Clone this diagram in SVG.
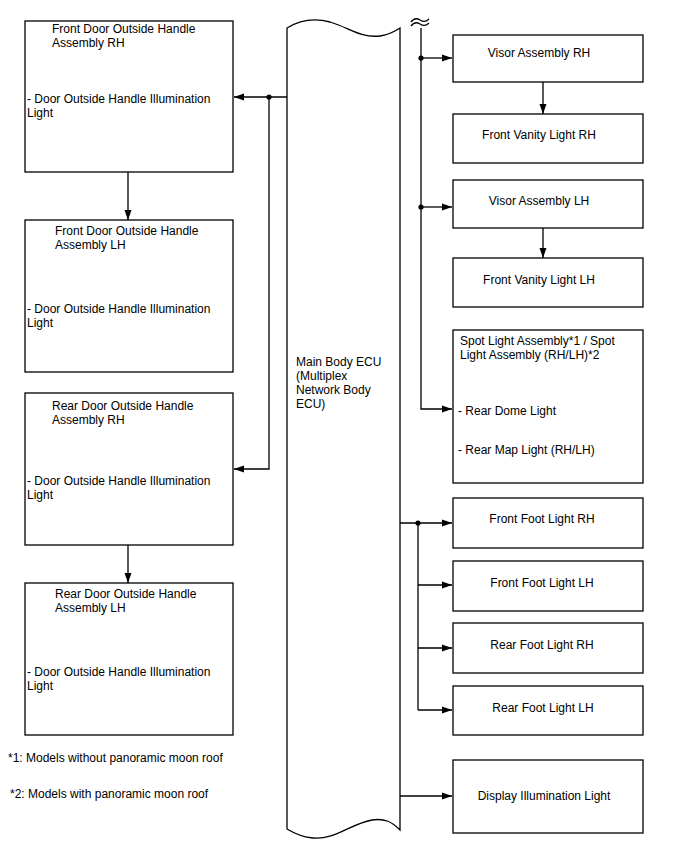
<svg xmlns="http://www.w3.org/2000/svg" width="688" height="852" viewBox="0 0 688 852">
<defs>
<marker id="ah" viewBox="0 0 10 10" refX="10" refY="5" markerWidth="10" markerHeight="10" markerUnits="userSpaceOnUse" orient="auto">
<path d="M0,1.5 L10,5 L0,8.5 Z" fill="#000"/>
</marker>
<style>
.box{fill:#fff;stroke:#000;stroke-width:1.3}
.t{font-family:"Liberation Sans",Arial,sans-serif;font-size:12px;fill:#000}
.m{text-anchor:middle}
.c{fill:none;stroke:#000;stroke-width:1.3}
.a{fill:none;stroke:#000;stroke-width:1.3;marker-end:url(#ah)}
</style>
</defs>
<rect width="688" height="852" fill="#fff"/>

<g id="ecu">
<path class="box" d="M287,28 C300,20 315,18 330,22 C350,28 360,38 380,36 C390,35 395,31 400,28 L400,830 C392,822 385,818 372,820 C350,824 335,840 313,838 C300,837 292,832 287,829 Z"/>
<text class="t" x="296" y="366">Main Body ECU</text>
<text class="t" x="296" y="380">(Multiplex</text>
<text class="t" x="296" y="394">Network Body</text>
<text class="t" x="296" y="408">ECU)</text>
</g>

<g id="fdrh">
<rect class="box" x="25" y="21" width="208" height="151"/>
<text class="t" x="52" y="33">Front Door Outside Handle</text>
<text class="t" x="52" y="47">Assembly RH</text>
<text class="t" x="27" y="103">- Door Outside Handle Illumination</text>
<text class="t" x="27" y="117">Light</text>
</g>
<g id="fdlh">
<rect class="box" x="25" y="220" width="208" height="152"/>
<text class="t" x="55" y="235">Front Door Outside Handle</text>
<text class="t" x="55" y="249">Assembly LH</text>
<text class="t" x="27" y="313">- Door Outside Handle Illumination</text>
<text class="t" x="27" y="327">Light</text>
</g>
<g id="rdrh">
<rect class="box" x="25" y="393" width="208" height="152"/>
<text class="t" x="52" y="410">Rear Door Outside Handle</text>
<text class="t" x="52" y="424">Assembly RH</text>
<text class="t" x="27" y="485">- Door Outside Handle Illumination</text>
<text class="t" x="27" y="499">Light</text>
</g>
<g id="rdlh">
<rect class="box" x="25" y="583" width="208" height="152"/>
<text class="t" x="55" y="598">Rear Door Outside Handle</text>
<text class="t" x="55" y="612">Assembly LH</text>
<text class="t" x="27" y="676">- Door Outside Handle Illumination</text>
<text class="t" x="27" y="690">Light</text>
</g>

<g id="visorrh">
<rect class="box" x="453" y="35" width="190" height="47"/>
<text class="t m" x="539" y="57">Visor Assembly RH</text>
</g>
<g id="vanityrh">
<rect class="box" x="453" y="114" width="190" height="49"/>
<text class="t m" x="539" y="139">Front Vanity Light RH</text>
</g>
<g id="visorlh">
<rect class="box" x="453" y="180" width="190" height="48"/>
<text class="t m" x="539" y="205">Visor Assembly LH</text>
</g>
<g id="vanitylh">
<rect class="box" x="453" y="258" width="190" height="49"/>
<text class="t m" x="539" y="284">Front Vanity Light LH</text>
</g>
<g id="spot">
<rect class="box" x="453" y="330" width="190" height="153"/>
<text class="t" x="460" y="345">Spot Light Assembly*1 / Spot</text>
<text class="t" x="460" y="359">Light Assembly (RH/LH)*2</text>
<text class="t" x="458" y="415">- Rear Dome Light</text>
<text class="t" x="458" y="454">- Rear Map Light (RH/LH)</text>
</g>
<g id="ffrh">
<rect class="box" x="453" y="498" width="190" height="50"/>
<text class="t m" x="542" y="523">Front Foot Light RH</text>
</g>
<g id="fflh">
<rect class="box" x="453" y="561" width="190" height="50"/>
<text class="t m" x="542" y="587">Front Foot Light LH</text>
</g>
<g id="rfrh">
<rect class="box" x="453" y="623" width="190" height="50"/>
<text class="t m" x="542" y="649">Rear Foot Light RH</text>
</g>
<g id="rflh">
<rect class="box" x="453" y="686" width="190" height="49"/>
<text class="t m" x="543" y="712">Rear Foot Light LH</text>
</g>
<g id="display">
<rect class="box" x="453" y="760" width="190" height="73"/>
<text class="t m" x="544" y="800">Display Illumination Light</text>
</g>

<g id="notes">
<text class="t" x="8" y="762">*1: Models without panoramic moon roof</text>
<text class="t" x="10" y="798">*2: Models with panoramic moon roof</text>
</g>

<g id="connectors">
<path class="a" d="M287,97 L234,97"/>
<path class="a" d="M269,97 L269,469 L234,469"/>
<circle cx="269" cy="97" r="2.6"/>
<path class="a" d="M128,172 L128,220"/>
<path class="a" d="M128,545 L128,583"/>

<path class="c" d="M411,22 C414,18 417,18 420,20 C423,22 426,22 429,19 M411,26 C414,22 417,22 420,24 C423,26 426,26 429,23"/>
<path class="a" d="M421,28 L421,409 L452,409"/>
<path class="a" d="M421,58 L452,58"/>
<circle cx="421" cy="58" r="2.6"/>
<path class="a" d="M421,207 L452,207"/>
<circle cx="421" cy="207" r="2.6"/>
<path class="a" d="M543,82 L543,114"/>
<path class="a" d="M543,228 L543,258"/>

<path class="a" d="M400,523 L452,523"/>
<circle cx="418" cy="523" r="2.6"/>
<path class="c" d="M418,523 L418,710"/>
<path class="a" d="M418,585 L452,585"/>
<path class="a" d="M418,648 L452,648"/>
<path class="a" d="M418,710 L452,710"/>
<path class="a" d="M400,796 L452,796"/>
</g>
</svg>
